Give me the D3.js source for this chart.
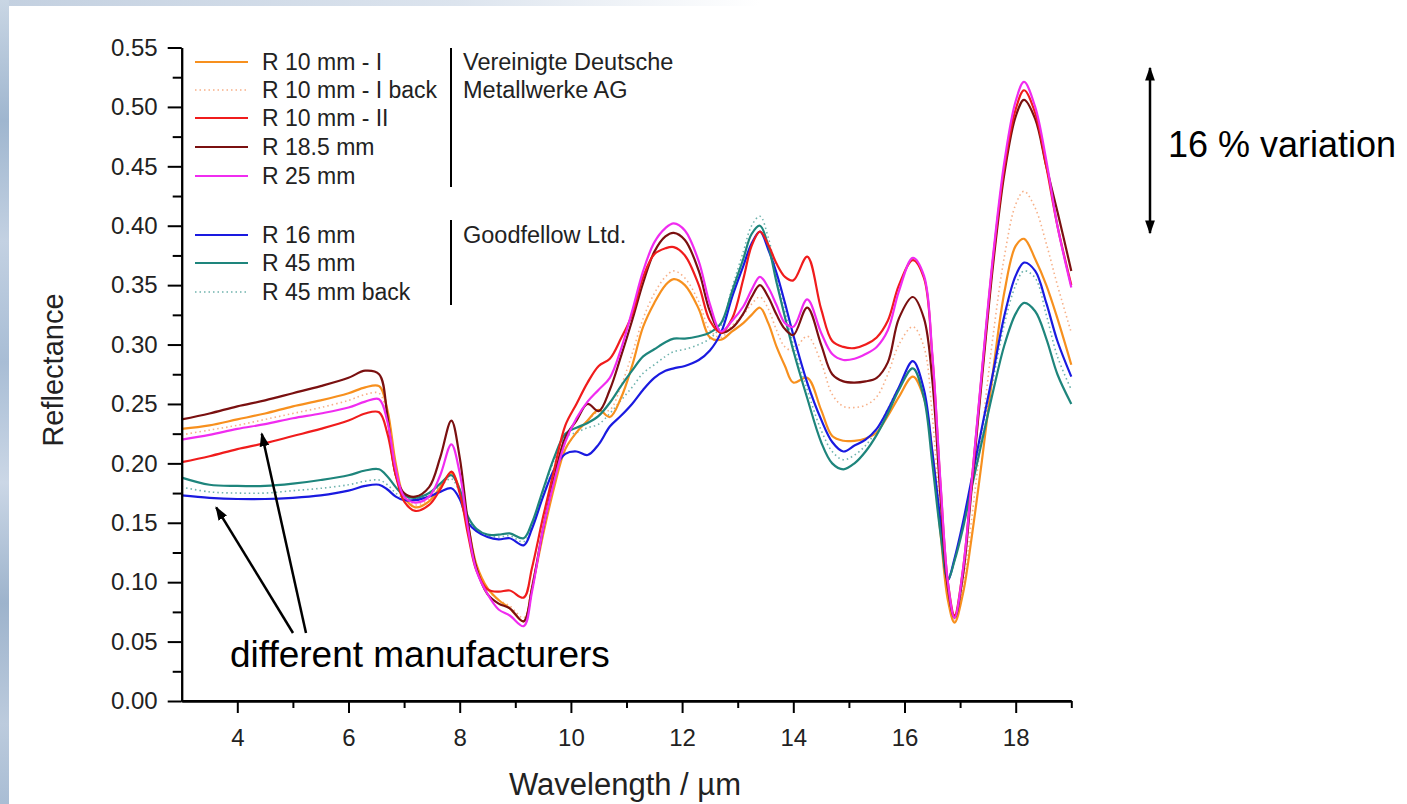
<!DOCTYPE html>
<html>
<head>
<meta charset="utf-8">
<style>
  body { margin: 0; background: #fff; }
  svg { display: block; font-family: "Liberation Sans", Arial, Helvetica, sans-serif; }
</style>
<script src="https://cdn.jsdelivr.net/npm/d3@7"></script>
</head>
<body>
<svg id="chart" width="1407" height="804"></svg>
<script>
// wavelength grid (µm)
const wavelength = [3.0, 3.5, 4.0, 4.5, 5.0, 5.5, 6.0,
  6.3, 6.55, 6.7, 6.85, 7.0, 7.2, 7.45, 7.65, 7.85,
  8.0, 8.15, 8.3, 8.5, 8.7, 8.9,
  9.15, 9.3, 9.5, 9.7, 9.9,
  10.1, 10.3, 10.5, 10.7, 10.9,
  11.1, 11.3, 11.5, 11.7, 11.85,
  12.05, 12.3, 12.5, 12.7, 12.9,
  13.1, 13.25, 13.4, 13.55, 13.7, 13.85,
  14.0, 14.25, 14.5, 14.7, 14.9,
  15.1, 15.3, 15.5, 15.7, 15.9,
  16.15, 16.35, 16.5, 16.65, 16.78, 16.9,
  17.05, 17.2, 17.4, 17.6, 17.8,
  18.0, 18.15, 18.35, 18.55, 18.75, 19.0]

const r10I = [0.229, 0.232, 0.237, 0.242, 0.248, 0.253, 0.259,
  0.264, 0.265, 0.245, 0.200, 0.172, 0.163, 0.168, 0.180, 0.192,
  0.178, 0.148, 0.115, 0.095, 0.085, 0.078,
  0.067, 0.095, 0.140, 0.180, 0.212,
  0.226, 0.236, 0.245, 0.239, 0.255,
  0.282, 0.315, 0.335, 0.350, 0.355,
  0.350, 0.330, 0.306, 0.304, 0.311,
  0.318, 0.325, 0.331, 0.318, 0.298, 0.282,
  0.268, 0.272, 0.245, 0.223, 0.219,
  0.219, 0.221, 0.226, 0.240, 0.256,
  0.273, 0.255, 0.210, 0.140, 0.085, 0.066,
  0.090, 0.135, 0.205, 0.280, 0.345,
  0.383, 0.389, 0.372, 0.350, 0.322, 0.283]

const r10IBack = [0.224, 0.228, 0.232, 0.237, 0.242, 0.247, 0.253,
  0.258, 0.259, 0.240, 0.198, 0.172, 0.165, 0.170, 0.180, 0.190,
  0.176, 0.146, 0.114, 0.094, 0.085, 0.080,
  0.070, 0.098, 0.142, 0.182, 0.212,
  0.226, 0.236, 0.244, 0.245, 0.265,
  0.292, 0.322, 0.343, 0.357, 0.362,
  0.356, 0.336, 0.312, 0.306, 0.316,
  0.325, 0.334, 0.340, 0.330, 0.312, 0.298,
  0.295, 0.307, 0.285, 0.258, 0.248,
  0.247, 0.249, 0.256, 0.275, 0.300,
  0.315, 0.298, 0.240, 0.150, 0.090, 0.068,
  0.095, 0.150, 0.230, 0.310, 0.375,
  0.418, 0.429, 0.415, 0.385, 0.350, 0.310]

const r10II = [0.201, 0.206, 0.212, 0.217, 0.223, 0.229, 0.236,
  0.242, 0.243, 0.225, 0.190, 0.168, 0.160, 0.165, 0.178, 0.193,
  0.175, 0.140, 0.110, 0.094, 0.092, 0.093,
  0.087, 0.112, 0.155, 0.195, 0.232,
  0.250, 0.268, 0.282, 0.288, 0.305,
  0.325, 0.357, 0.376, 0.381, 0.382,
  0.375, 0.350, 0.320, 0.310, 0.322,
  0.355, 0.383, 0.395, 0.384, 0.368, 0.357,
  0.354, 0.374, 0.330, 0.303, 0.298,
  0.297, 0.300, 0.306, 0.320, 0.350,
  0.371, 0.356, 0.290, 0.180, 0.100, 0.072,
  0.110, 0.180, 0.280, 0.375, 0.450,
  0.498, 0.514, 0.495, 0.450, 0.400, 0.350]

const r185 = [0.237, 0.242, 0.248, 0.253, 0.259, 0.265, 0.272,
  0.278, 0.275, 0.240, 0.190, 0.175, 0.172, 0.180, 0.205, 0.236,
  0.205, 0.150, 0.112, 0.090, 0.082, 0.078,
  0.067, 0.095, 0.145, 0.188, 0.222,
  0.236, 0.250, 0.244, 0.262, 0.290,
  0.320, 0.352, 0.378, 0.391, 0.394,
  0.388, 0.362, 0.328, 0.310, 0.314,
  0.326, 0.340, 0.350, 0.340, 0.325, 0.313,
  0.308, 0.331, 0.300, 0.275, 0.269,
  0.268, 0.269, 0.272, 0.285, 0.322,
  0.340, 0.322, 0.270, 0.170, 0.095, 0.070,
  0.105, 0.175, 0.275, 0.370, 0.445,
  0.492, 0.506, 0.490, 0.450, 0.412, 0.362]

const r25 = [0.220, 0.224, 0.229, 0.233, 0.238, 0.242, 0.247,
  0.252, 0.254, 0.235, 0.195, 0.172, 0.167, 0.172, 0.190, 0.216,
  0.192, 0.145, 0.110, 0.090, 0.077, 0.072,
  0.063, 0.092, 0.145, 0.185, 0.218,
  0.238, 0.252, 0.262, 0.272, 0.296,
  0.328, 0.362, 0.386, 0.398, 0.402,
  0.396, 0.370, 0.334, 0.311, 0.320,
  0.332, 0.346, 0.357, 0.348, 0.333, 0.318,
  0.315, 0.338, 0.310, 0.292, 0.287,
  0.288, 0.292, 0.298, 0.312, 0.345,
  0.373, 0.358, 0.292, 0.182, 0.100, 0.070,
  0.110, 0.180, 0.282, 0.378, 0.455,
  0.505, 0.521, 0.500, 0.455, 0.400, 0.348]

const r16 = [0.173, 0.171, 0.170, 0.170, 0.171, 0.173, 0.177,
  0.181, 0.182, 0.178, 0.172, 0.169, 0.169, 0.172, 0.176, 0.179,
  0.170, 0.150, 0.143, 0.138, 0.136, 0.137,
  0.131, 0.145, 0.172, 0.195, 0.208,
  0.210, 0.207, 0.216, 0.231, 0.240,
  0.250, 0.262, 0.272, 0.278, 0.280,
  0.282, 0.287, 0.295, 0.310, 0.340,
  0.366, 0.385, 0.395, 0.380, 0.360, 0.335,
  0.308, 0.268, 0.237, 0.218, 0.210,
  0.215, 0.220, 0.229, 0.245, 0.264,
  0.286, 0.262, 0.210, 0.150, 0.102, 0.120,
  0.150, 0.185, 0.232, 0.278, 0.325,
  0.358, 0.369, 0.362, 0.335, 0.303, 0.273]

const r45 = [0.188, 0.182, 0.181, 0.181, 0.183, 0.186, 0.190,
  0.194, 0.195, 0.189, 0.180, 0.173, 0.171, 0.175, 0.183, 0.190,
  0.178, 0.155, 0.145, 0.140, 0.140, 0.141,
  0.137, 0.150, 0.178, 0.205, 0.225,
  0.230, 0.234, 0.240, 0.251, 0.265,
  0.278, 0.290, 0.296, 0.302, 0.305,
  0.305, 0.307, 0.310, 0.318, 0.345,
  0.372, 0.393, 0.400, 0.383, 0.352, 0.323,
  0.295, 0.255, 0.218, 0.200, 0.195,
  0.200, 0.210, 0.224, 0.242, 0.262,
  0.280, 0.255, 0.200, 0.140, 0.102, 0.118,
  0.145, 0.178, 0.220, 0.262, 0.300,
  0.326, 0.335, 0.328, 0.305, 0.275, 0.250]

const r45Back = [0.180, 0.176, 0.175, 0.175, 0.177, 0.179, 0.182,
  0.185, 0.186, 0.182, 0.175, 0.171, 0.170, 0.174, 0.181, 0.187,
  0.175, 0.153, 0.144, 0.139, 0.138, 0.139,
  0.134, 0.148, 0.176, 0.203, 0.222,
  0.226, 0.230, 0.233, 0.242, 0.253,
  0.264, 0.276, 0.283, 0.290, 0.294,
  0.296, 0.300, 0.305, 0.316, 0.348,
  0.378, 0.400, 0.408, 0.390, 0.358, 0.328,
  0.300, 0.262, 0.228, 0.210, 0.203,
  0.207, 0.215, 0.228, 0.246, 0.264,
  0.280, 0.258, 0.205, 0.145, 0.104, 0.118,
  0.148, 0.182, 0.228, 0.272, 0.318,
  0.350, 0.362, 0.356, 0.325, 0.290, 0.262]

const seriesNames = ["R 10 mm - I", "R 10 mm - I back", "R 10 mm - II", "R 18.5 mm", "R 25 mm",
  "R 16 mm", "R 45 mm", "R 45 mm back"]
const seriesValues = [r10I, r10IBack, r10II, r185, r25, r16, r45, r45Back]
const seriesColors = ["#f7901e", "#f7b088", "#f01c1c", "#7a1010", "#f02cf0", "#1a1ae0", "#1e857c", "#6fb3ad"]
const seriesDotted = [false, true, false, false, false, false, false, true]

const yTicks = [0, 0.05, 0.1, 0.15, 0.2, 0.25, 0.3, 0.35, 0.4, 0.45, 0.5, 0.55]
const xTicks = [4, 6, 8, 10, 12, 14, 16, 18]

const svg = d3.select("#chart")

// bluish photo-like border on left and top
let defs = svg.append("defs")
let lg = defs.append("linearGradient").attr("id", "leftStrip").attr("x1", 0).attr("y1", 0).attr("x2", 0).attr("y2", 1)
;[["0", "#c9d6e4"], ["0.15", "#9fb6cf"], ["0.3", "#c3d1e2"], ["0.45", "#a8bdd5"], ["0.6", "#cbd7e6"],
  ["0.75", "#9db3cc"], ["0.9", "#bccbdd"], ["1", "#a9bdd4"]].forEach(s => lg.append("stop").attr("offset", s[0]).attr("stop-color", s[1]))
let tg = defs.append("linearGradient").attr("id", "topStrip")
tg.append("stop").attr("offset", 0).attr("stop-color", "#c3d0e0")
tg.append("stop").attr("offset", 0.6).attr("stop-color", "#dce4ee")
tg.append("stop").attr("offset", 1).attr("stop-color", "#ffffff")
svg.append("rect").attr("x", 0).attr("y", 0).attr("width", 760).attr("height", 6).attr("fill", "url(#topStrip)")
svg.append("rect").attr("x", 0).attr("y", 0).attr("width", 9).attr("height", 804).attr("fill", "url(#leftStrip)")

defs.append("marker").attr("id", "head").attr("viewBox", "0 0 10 10").attr("refX", 9).attr("refY", 5)
  .attr("markerWidth", 14).attr("markerHeight", 14).attr("markerUnits", "userSpaceOnUse")
  .attr("orient", "auto-start-reverse")
  .append("path").attr("d", "M0,1.5 L10,5 L0,8.5 z").attr("fill", "#000")

const x = d3.scaleLinear().domain([3, 19]).range([181.7, 1071.3])
const y = d3.scaleLinear().domain([0, 0.55]).range([701, 47.5])

// curves
const line = d3.line()
  .x((d, i) => x(wavelength[i]))
  .y(d => y(d))
  .curve(d3.curveCatmullRom.alpha(0.5))

const order = [1, 7, 0, 5, 6, 3, 2, 4]
order.forEach(i => {
  svg.append("path")
    .attr("d", line(seriesValues[i]))
    .attr("fill", "none")
    .attr("stroke", seriesColors[i])
    .attr("stroke-width", seriesDotted[i] ? 1.6 : 2.2)
    .attr("stroke-dasharray", seriesDotted[i] ? "1.5,3" : null)
    .attr("stroke-linejoin", "round")
})

// axes
const yAxis = d3.axisLeft(y).tickValues(yTicks).tickFormat(d3.format(".2f")).tickSize(14).tickSizeOuter(0).tickPadding(10)
const yMinor = d3.axisLeft(y).tickValues(yTicks.slice(0, -1).map(v => v + 0.025)).tickFormat("").tickSize(9).tickSizeOuter(0)
const xAxis = d3.axisBottom(x).tickValues(xTicks).tickFormat(d3.format("d")).tickSize(12).tickSizeOuter(0).tickPadding(16)
const xMinor = d3.axisBottom(x).tickValues([5, 7, 9, 11, 13, 15, 17, 19]).tickFormat("").tickSize(7).tickSizeOuter(0)

function styleAxis(g) {
  g.selectAll("path, line").attr("stroke", "#000").attr("stroke-width", 2)
  g.selectAll("text").attr("fill", "#222").style("font-size", "24px").style("font-family", "'Liberation Sans', Arial, sans-serif")
}

svg.append("g").attr("transform", `translate(${x(3)},0)`).call(yMinor).call(styleAxis)
svg.append("g").attr("transform", `translate(${x(3)},0)`).call(yAxis).call(styleAxis)
svg.append("g").attr("transform", `translate(0,${y(0)})`).call(xMinor).call(styleAxis)
svg.append("g").attr("transform", `translate(0,${y(0)})`).call(xAxis).call(styleAxis)
svg.append("line").attr("x1", x(3)).attr("x2", x(19)).attr("y1", y(0)).attr("y2", y(0)).attr("stroke", "#000").attr("stroke-width", 2)

// axis titles
svg.append("text").attr("transform", "translate(63,370) rotate(-90)")
  .attr("text-anchor", "middle").style("font-size", "29px").attr("fill", "#222").text("Reflectance")
svg.append("text").attr("x", 625).attr("y", 795)
  .attr("text-anchor", "middle").style("font-size", "31px").attr("fill", "#222").text("Wavelength / µm")

// legend
const legendRows = [62, 90, 118, 147, 176, 235, 263, 292]
const legend = svg.append("g")
seriesNames.forEach((name, i) => {
  legend.append("line").attr("x1", 195).attr("x2", 248).attr("y1", legendRows[i]).attr("y2", legendRows[i])
    .attr("stroke", seriesColors[i]).attr("stroke-width", seriesDotted[i] ? 1.5 : 2.2)
    .attr("stroke-dasharray", seriesDotted[i] ? "1.5,3" : null)
  legend.append("text").attr("x", 262).attr("y", legendRows[i]).attr("dy", "0.36em")
    .style("font-size", "23px").attr("fill", "#222").text(name)
})
const groupLabels = [["Vereinigte Deutsche", 62], ["Metallwerke AG", 90], ["Goodfellow Ltd.", 235]]
groupLabels.forEach(g => {
  legend.append("text").attr("x", 463).attr("y", g[1]).attr("dy", "0.36em")
    .style("font-size", "23.5px").attr("fill", "#222").text(g[0])
})
;[[48, 187], [220, 305]].forEach(b => {
  legend.append("line").attr("x1", 451).attr("x2", 451).attr("y1", b[0]).attr("y2", b[1])
    .attr("stroke", "#000").attr("stroke-width", 2)
})

// annotations
svg.append("line").attr("x1", 1150).attr("x2", 1150).attr("y1", 150).attr("y2", 68)
  .attr("stroke", "#000").attr("stroke-width", 2.5).attr("marker-end", "url(#head)")
svg.append("line").attr("x1", 1150).attr("x2", 1150).attr("y1", 150).attr("y2", 233)
  .attr("stroke", "#000").attr("stroke-width", 2.5).attr("marker-end", "url(#head)")
svg.append("text").attr("x", 1168).attr("y", 157).style("font-size", "36px").attr("fill", "#000").text("16 % variation")

svg.append("line").attr("x1", 293).attr("y1", 633).attr("x2", x(3.62)).attr("y2", y(0.163))
  .attr("stroke", "#000").attr("stroke-width", 2.5).attr("marker-end", "url(#head)")
svg.append("line").attr("x1", 306).attr("y1", 633).attr("x2", x(4.44)).attr("y2", y(0.225))
  .attr("stroke", "#000").attr("stroke-width", 2.5).attr("marker-end", "url(#head)")
svg.append("text").attr("x", 230).attr("y", 667).style("font-size", "37px").attr("fill", "#000").text("different manufacturers")
</script>
</body>
</html>
